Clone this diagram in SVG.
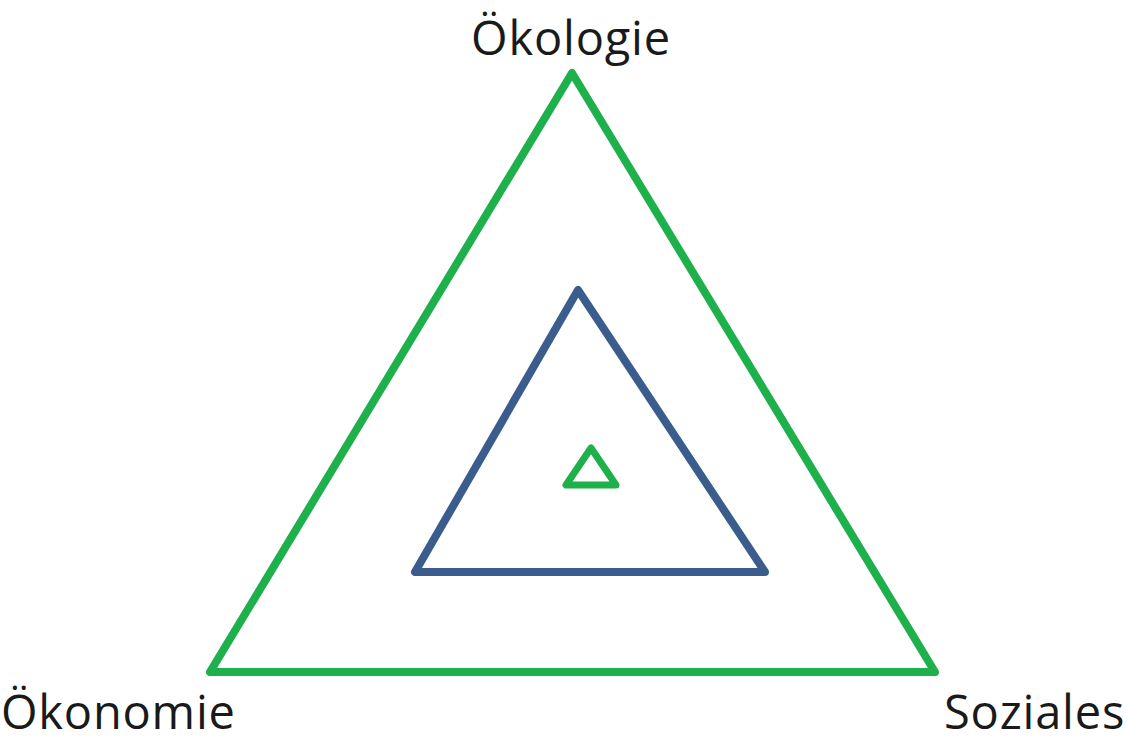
<svg xmlns="http://www.w3.org/2000/svg" width="1128" height="742" viewBox="0 0 1128 742">
<style>
.lbl{font-family:"Open Sans",Lato,"Liberation Sans",sans-serif;font-size:47px;letter-spacing:0.8px;fill:#1a1a1a}
.g{fill:none;stroke:#1DB04B;stroke-linejoin:round}
.b{fill:none;stroke:#3B5D8E;stroke-linejoin:round}
</style>
<rect width="1128" height="742" fill="#ffffff"/>
<g id="outer"><polygon class="g" stroke-width="8" points="572,73 210,672 935,672"/></g>
<g id="middle"><polygon class="b" stroke-width="8" points="578,290 415,572 765,572"/></g>
<g id="inner"><polygon class="g" stroke-width="7" points="591,448 566,485 616,485"/></g>
<g id="connectors"></g>
<g id="label-oekologie"><text class="lbl" x="571" y="55" text-anchor="middle">Ökologie</text></g>
<g id="label-oekonomie"><text class="lbl" x="1" y="729">Ökonomie</text></g>
<g id="label-soziales"><text class="lbl" x="944" y="729">Soziales</text></g>
</svg>
